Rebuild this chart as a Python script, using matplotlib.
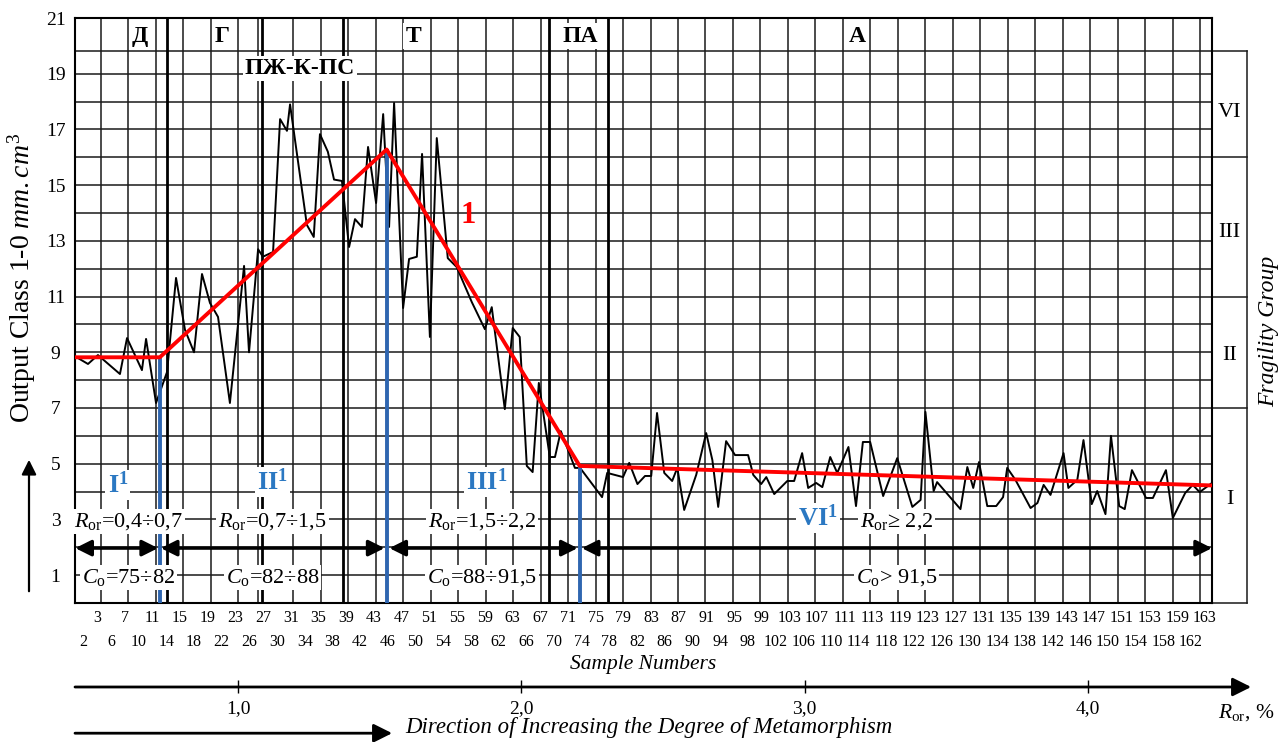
import matplotlib.pyplot as plt

plt.rcParams['font.family'] = ['Liberation Serif', 'DejaVu Serif']
plt.rcParams['mathtext.fontset'] = 'custom'
plt.rcParams['mathtext.rm'] = 'Liberation Serif'
plt.rcParams['mathtext.it'] = 'Liberation Serif:italic'
plt.rcParams['mathtext.bf'] = 'Liberation Serif:bold'

# measured curve (position along sample axis, output class value)
sample_pos = [0.3, 2.15, 3.6, 6.8, 7.83, 10.0, 10.6, 12.05, 13.65, 14.96,
              16.27, 17.58, 18.74, 19.9, 21.07, 22.8, 24.86, 25.58, 26.9, 27.6,
              29.08, 30.1, 31.1, 31.55, 34.0, 35.0, 35.9, 37.05, 37.95, 39.1,
              40.14, 41.0, 42.0, 42.9, 44.07, 45.1, 45.96, 46.69, 48.0, 48.87,
              50.0, 50.76, 51.9, 52.9, 54.5, 55.8, 58.0, 59.9, 60.9, 62.8,
              63.95, 64.97, 66.0, 66.85, 67.75, 69.35, 70.1, 70.95, 73.0, 73.75,
              76.95, 77.7, 80.0, 80.9, 82.1, 83.2, 84.1, 84.95, 86.0, 87.15,
              87.9, 88.9, 90.65, 92.1, 93.0, 93.85, 95.0, 96.3, 98.2, 98.95,
              100.1, 100.85, 102.0, 103.9, 104.9, 106.06, 106.94, 108.1, 109.0, 110.15,
              111.17, 112.8, 113.9, 114.9, 115.96, 117.85, 119.9, 122.1, 123.3, 124.0,
              125.2, 125.7, 129.1, 130.1, 130.96, 131.8, 133.0, 134.3, 135.3, 135.9,
              137.1, 139.3, 140.3, 141.2, 142.2, 144.1, 144.8, 146.1, 147.0, 148.2,
              149.0, 150.2, 151.0, 152.2, 153.0, 154.05, 156.1, 157.1, 159.0, 160.0,
              161.8, 162.9, 163.9, 165.7]
output_class = [8.85, 8.58, 8.9, 8.22, 9.51, 8.36, 9.48, 7.18, 8.29, 11.67,
                9.8, 9.0, 11.81, 10.77, 10.27, 7.18, 12.1, 9.0, 12.7, 12.43,
                12.6, 17.37, 16.95, 17.9, 13.57, 13.14, 16.83, 16.2, 15.2, 15.15,
                12.78, 13.78, 13.5, 16.37, 14.36, 17.55, 13.5, 17.95, 10.59, 12.35,
                12.43, 16.12, 9.55, 16.69, 12.38, 12.06, 10.8, 9.83, 10.62, 6.96,
                9.87, 9.55, 4.92, 4.7, 7.9, 5.24, 5.24, 6.17, 4.85, 4.85,
                3.8, 4.67, 4.52, 5.03, 4.27, 4.56, 4.56, 6.82, 4.67, 4.38,
                4.85, 3.34, 4.6, 6.1, 5.13, 3.45, 5.81, 5.31, 5.31, 4.6,
                4.27, 4.52, 3.91, 4.38, 4.38, 5.38, 4.13, 4.31, 4.16, 5.24,
                4.67, 5.6, 3.48, 5.78, 5.78, 3.84, 5.2, 3.45, 3.7, 6.86,
                4.02, 4.34, 3.37, 4.88, 4.13, 5.06, 3.48, 3.48, 3.8, 4.85,
                4.42, 3.41, 3.59, 4.24, 3.88, 5.38, 4.13, 4.42, 5.85, 3.55,
                4.02, 3.19, 6.0, 3.48, 3.37, 4.77, 3.77, 3.77, 4.77, 3.05,
                3.95, 4.24, 3.98, 4.31]

# trend line 1 and its break points
trend_pos = [0.3, 12.6, 45.6, 73.7, 165.7]
trend_val = [8.82, 8.82, 16.28, 4.92, 4.22]
break_pos = [12.6, 45.6, 73.7]
break_val = [8.82, 16.28, 4.92]

# sample number labels (two rows)
num_bottom = [2, 6, 10, 14, 18, 22, 26, 30, 34, 38, 42, 46, 50, 54, 58, 62, 66, 70,
              74, 78, 82, 86, 90, 94, 98, 102, 106, 110, 114, 118, 122, 126, 130,
              134, 138, 142, 146, 150, 154, 158, 162]
num_top = [3, 7, 11, 15, 19, 23, 27, 31, 35, 39, 43, 47, 51, 55, 59, 63, 67, 71,
           75, 79, 83, 87, 91, 95, 99, 103, 107, 111, 113, 119, 123, 127, 131,
           135, 139, 143, 147, 151, 153, 159, 163]

# coal rank zones
zone_names = ['Д', 'Г', 'ПЖ-К-ПС', 'Т', 'ПА', 'А']
zone_x = [9.7, 21.7, 33.0, 49.5, 73.8, 114.1]
zone_y = [20.35, 20.35, 19.2, 20.35, 20.35, 20.35]
zone_lines = [13.6, 27.43, 39.31, 69.24, 77.79]

# stage ranges
stage_names = ['I', 'II', 'III', 'VI']
stage_ror = ['=0,4÷0,7', '=0,7÷1,5', '=1,5÷2,2', '≥ 2,2']
stage_co = ['=75÷82', '=82÷88', '=88÷91,5', '> 91,5']
stage_spans = [(0.3, 12.35), (12.75, 45.3), (46.0, 73.4), (74.0, 165.7)]
stage_text_x = [8.0, 29.0, 59.5, 119.8]
stage_name_x = [6.5, 29.0, 60.2, 108.4]
stage_name_y = [4.24, 4.34, 4.34, 3.05]

# fragility groups
group_bounds = [0, 7, 11, 16, 19.8]
group_names = ['I', 'II', 'III', 'VI']
group_label_y = [3.7, 8.9, 13.3, 17.6]

ror_ticks = [1.0, 2.0, 3.0, 4.0]
ror_labels = ['1,0', '2,0', '3,0', '4,0']

fig = plt.figure(figsize=(12.85, 7.42), dpi=100)
ax = fig.add_axes([75 / 1285, 1 - 603 / 742, 1137 / 1285, 585 / 742])
x0, x1 = 0.26, 165.7
ax.set_xlim(x0, x1)
ax.set_ylim(0, 21)

grid_c = '#1a1a1a'
grid_y = list(range(1, 20)) + [19.8]
ax.hlines(grid_y, x0, x1, color=grid_c, lw=1.1, zorder=1)
grid_x = [4 * k for k in range(1, 42) if k != 7] + [26.94]
ax.vlines(grid_x, 0, 21, color=grid_c, lw=1.1, zorder=1)
ax.vlines(zone_lines, 0, 21, color='black', lw=2.0, zorder=1)
for s in ax.spines.values():
    s.set_linewidth(1.5)

ax.plot(sample_pos, output_class, color='black', lw=1.4, zorder=3)
ax.vlines(break_pos, 0, break_val, color='#2f66b0', lw=2.8, zorder=3.5)
ax.plot(trend_pos, trend_val, color='#ff0000', lw=2.8, zorder=4)
ax.text(57.5, 13.9, '1', color='#ff0000', fontsize=22, fontweight='bold',
        ha='center', va='center', zorder=5)

wbox = dict(facecolor='white', edgecolor='none', pad=1.5)
for name, zx, zy in zip(zone_names, zone_x, zone_y):
    ax.text(zx, zy, name, fontsize=17, fontweight='bold', ha='center', va='center',
            bbox=wbox, zorder=5)

for i in range(4):
    a, b = stage_spans[i]
    ax.annotate('', xy=(b, 1.97), xytext=(a, 1.97),
                arrowprops=dict(arrowstyle='<|-|>', color='black', lw=2.4,
                                mutation_scale=24, shrinkA=0, shrinkB=0),
                annotation_clip=False, zorder=5)
    ax.text(stage_text_x[i], 2.94, r'$R_{\mathrm{or}}$' + stage_ror[i], fontsize=16,
            ha='center', va='center', bbox=wbox, zorder=5)
    ax.text(stage_text_x[i], 0.93, r'$C_{\mathrm{o}}$' + stage_co[i], fontsize=16,
            ha='center', va='center', bbox=wbox, zorder=5)
    ax.text(stage_name_x[i], stage_name_y[i],
            r'$\mathbf{%s}^{\mathbf{1}}$' % stage_names[i], color='#2b78c2',
            fontsize=19, ha='center', va='center', bbox=wbox, zorder=5)

# fragility group box on the right
bx = 170.8
ax.plot([bx, bx], [0, group_bounds[-1]], color=grid_c, lw=1.1, clip_on=False)
for gb in group_bounds:
    ax.plot([x1, bx], [gb, gb], color=grid_c, lw=1.1, clip_on=False)
for gname, gy in zip(group_names, group_label_y):
    ax.text((x1 + bx) / 2, gy, gname, fontsize=16, ha='center', va='center')
ax.text(173.9, 9.75, 'Fragility Group', fontsize=17, style='italic', rotation=90,
        ha='center', va='center')

ax.set_yticks(range(1, 22, 2))
ax.tick_params(axis='y', length=0, pad=14, labelsize=14)
for lab in ax.get_yticklabels():
    lab.set_ha('center')

top_pos = [3.465 + 4.03 * j for j in range(len(num_top))]
bot_pos = [1.45 + 4.03 * j for j in range(len(num_bottom))]
ax.set_xticks(top_pos, [str(v) for v in num_top])
ax.set_xticks(bot_pos, [str(v) for v in num_bottom], minor=True)
ax.tick_params(axis='x', which='both', length=0, labelsize=11.5)
ax.tick_params(axis='x', which='major', pad=5)
ax.tick_params(axis='x', which='minor', pad=22)
ax.text(0.4996, -0.105, 'Sample Numbers', transform=ax.transAxes, fontsize=15.5,
        style='italic', ha='center', va='center')

fig.text(22 / 1285, 1 - 278 / 742,
         r'Output Class $\mathit{1}$-$\mathit{0\ mm.cm^3}$',
         rotation=90, fontsize=20, ha='center', va='center')
fig.patches.append(plt.matplotlib.patches.FancyArrowPatch(
    (29 / 1285, 1 - 594 / 742), (29 / 1285, 1 - 457 / 742),
    transform=fig.transFigure, arrowstyle='-|>', mutation_scale=22,
    color='black', lw=1.6))

# metamorphism (R_or) scale below
ax2 = fig.add_axes([75 / 1285, 0, 1137 / 1285, 80 / 742])
ax2.set_xlim(0.4247, 4.438)
ax2.set_ylim(0, 1)
ax2.axis('off')
ax2.annotate('', xy=(4.576, 0.6875), xytext=(0.4247, 0.6875),
             arrowprops=dict(arrowstyle='-|>', color='black', lw=2.0,
                             mutation_scale=28, shrinkA=0, shrinkB=0),
             annotation_clip=False)
ax2.vlines(ror_ticks, 0.61, 0.77, color='black', lw=1.0)
for t, lab in zip(ror_ticks, ror_labels):
    ax2.text(t, 0.42, lab, fontsize=14, ha='center', va='center')
ax2.text(4.558, 0.37, r'$R_{\mathrm{or}}$, %', fontsize=15.5, ha='center', va='center',
         clip_on=False)
ax2.annotate('', xy=(1.544, 0.11), xytext=(0.4247, 0.11),
             arrowprops=dict(arrowstyle='-|>', color='black', lw=2.0,
                             mutation_scale=28, shrinkA=0, shrinkB=0),
             annotation_clip=False)
ax2.text(2.449, 0.175, 'Direction of Increasing the Degree of Metamorphism',
         fontsize=16.5, style='italic', ha='center', va='center')

fig.savefig('out.png', dpi=100)
